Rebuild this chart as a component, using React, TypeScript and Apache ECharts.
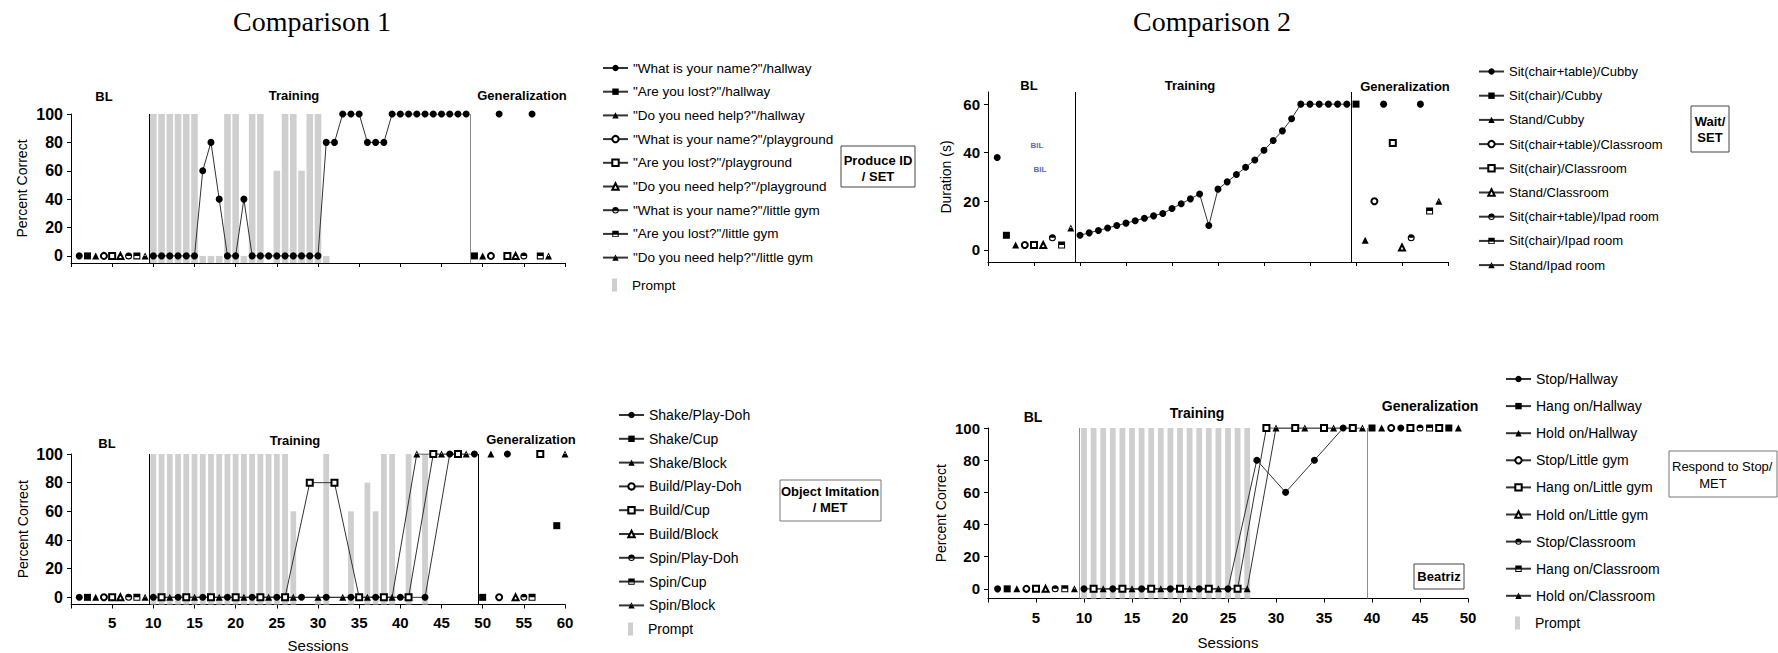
import React, { useEffect, useRef } from 'react';
import * as echarts from 'echarts';

const FONT = '"Liberation Sans", Arial, Helvetica, sans-serif';
const SERIF = '"Liberation Serif", "Times New Roman", serif';

// ---------------- Panel 1 : Produce ID / SET ----------------
const P1_NAMES = [
  '"What is your name?"/hallway',
  '"Are you lost?"/hallway',
  '"Do you need help?"/hallway',
  '"What is your name?"/playground',
  '"Are you lost?"/playground',
  '"Do you need help?"/playground',
  '"What is your name?"/little gym',
  '"Are you lost?"/little gym',
  '"Do you need help?"/little gym',
];
const P1_BL = [0, 0, 0, 0, 0, 0, 0, 0, 0]; // series i measured at session i+1
const P1_TRAIN_SESSIONS = [10, 11, 12, 13, 14, 15, 16, 17, 18, 19, 20, 21, 22, 23, 24, 25, 26, 27, 28, 29, 30, 31, 32, 33, 34, 35, 36, 37, 38, 39, 40, 41, 42, 43, 44, 45, 46, 47, 48];
const P1_TRAIN_S0 = [0, 0, 0, 0, 0, 0, 60, 80, 40, 0, 0, 40, 0, 0, 0, 0, 0, 0, 0, 0, 0, 80, 80, 100, 100, 100, 80, 80, 80, 100, 100, 100, 100, 100, 100, 100, 100, 100, 100];
// [session, series index, value]
const P1_GEN = [[49, 1, 0], [50, 2, 0], [51, 3, 0], [52, 0, 100], [53, 4, 0], [54, 5, 0], [55, 6, 0], [56, 0, 100], [57, 7, 0], [58, 8, 0]];
const P1_PROMPT_SESSIONS = [10, 11, 12, 13, 14, 15, 16, 17, 18, 19, 20, 21, 22, 23, 25, 26, 27, 28, 29, 30, 31];
const P1_PROMPT = [100, 100, 100, 100, 100, 100, 0, 0, 0, 100, 100, 0, 100, 100, 60, 100, 100, 60, 100, 100, 0];
const P1_PHASES = [9.5, 48.5];

// ---------------- Panel 2 : Wait / SET ----------------
const P2_NAMES = [
  'Sit(chair+table)/Cubby',
  'Sit(chair)/Cubby',
  'Stand/Cubby',
  'Sit(chair+table)/Classroom',
  'Sit(chair)/Classroom',
  'Stand/Classroom',
  'Sit(chair+table)/Ipad room',
  'Sit(chair)/Ipad room',
  'Stand/Ipad room',
];
const P2_BL = [38, 6, 2, 2, 2, 2, 5, 2, 9];
const P2_TRAIN_SESSIONS = [10, 11, 12, 13, 14, 15, 16, 17, 18, 19, 20, 21, 22, 23, 24, 25, 26, 27, 28, 29, 30, 31, 32, 33, 34, 35, 36, 37, 38, 39];
const P2_TRAIN_S0 = [6, 7, 8, 9, 10, 11, 12, 13, 14, 15, 17, 19, 21, 23, 10, 25, 28, 31, 34, 37, 41, 45, 49, 54, 60, 60, 60, 60, 60, 60];
const P2_GEN = [[40, 1, 60], [41, 2, 4], [42, 3, 20], [43, 0, 60], [44, 4, 44], [45, 5, 1], [46, 6, 5], [47, 0, 60], [48, 7, 16], [49, 8, 20]];
const P2_PHASES = [9.5, 39.5];

// ---------------- Panel 3 : Object Imitation / MET ----------------
const P3_NAMES = [
  'Shake/Play-Doh',
  'Shake/Cup',
  'Shake/Block',
  'Build/Play-Doh',
  'Build/Cup',
  'Build/Block',
  'Spin/Play-Doh',
  'Spin/Cup',
  'Spin/Block',
];
const P3_BL = [0, 0, 0, 0, 0, 0, 0, 0, 0];
const P3_TRAIN_S0 = [[10, 0], [13, 0], [16, 0], [19, 0], [22, 0], [25, 0], [28, 0], [31, 0], [34, 0], [37, 0], [40, 0], [43, 0], [46, 100], [49, 100]];
const P3_TRAIN_S4 = [[11, 0], [14, 0], [17, 0], [20, 0], [23, 0], [26, 0], [29, 80], [32, 80], [35, 0], [38, 0], [41, 0], [44, 100], [47, 100]];
const P3_TRAIN_S8 = [[12, 0], [15, 0], [18, 0], [21, 0], [24, 0], [27, 0], [30, 0], [33, 0], [36, 0], [39, 0], [42, 100], [45, 100], [48, 100]];
const P3_GEN = [[50, 1, 0], [51, 2, 100], [52, 3, 0], [53, 0, 100], [54, 5, 0], [55, 6, 0], [56, 7, 0], [57, 4, 100], [59, 1, 50], [60, 8, 100]];
const P3_PROMPT_SESSIONS = [10, 11, 12, 13, 14, 15, 16, 17, 18, 19, 20, 21, 22, 23, 24, 25, 26, 27, 30, 31, 34, 36, 37, 38, 39, 41, 43];
const P3_PROMPT = [100, 100, 100, 100, 100, 100, 100, 100, 100, 100, 100, 100, 100, 100, 100, 100, 100, 60, 0, 100, 60, 80, 60, 100, 100, 100, 100];
const P3_PHASES = [9.5, 49.5];

// ---------------- Panel 4 : Respond to Stop / MET ----------------
const P4_NAMES = [
  'Stop/Hallway',
  'Hang on/Hallway',
  'Hold on/Hallway',
  'Stop/Little gym',
  'Hang on/Little gym',
  'Hold on/Little gym',
  'Stop/Classroom',
  'Hang on/Classroom',
  'Hold on/Classroom',
];
const P4_BL = [0, 0, 0, 0, 0, 0, 0, 0, 0];
const P4_TRAIN_S0 = [[10, 0], [13, 0], [16, 0], [19, 0], [22, 0], [25, 0], [28, 80], [31, 60], [34, 80], [37, 100]];
const P4_TRAIN_S4 = [[11, 0], [14, 0], [17, 0], [20, 0], [23, 0], [26, 0], [29, 100], [32, 100], [35, 100], [38, 100]];
const P4_TRAIN_S8 = [[12, 0], [15, 0], [18, 0], [21, 0], [24, 0], [27, 0], [30, 100], [33, 100], [36, 100], [39, 100]];
const P4_GEN = [[40, 1, 100], [41, 2, 100], [42, 3, 100], [43, 0, 100], [44, 4, 100], [45, 6, 100], [46, 7, 100], [47, 4, 100], [48, 1, 100], [49, 2, 100]];
const P4_PROMPT_SESSIONS = [10, 11, 12, 13, 14, 15, 16, 17, 18, 19, 20, 21, 22, 23, 24, 25, 26, 27];
const P4_PROMPT = [100, 100, 100, 100, 100, 100, 100, 100, 100, 100, 100, 100, 100, 100, 100, 100, 100, 100];
const P4_PHASES = [9.5, 39.5];

const PCT_TICKS = [0, 20, 40, 60, 80, 100];
const DUR_TICKS = [0, 20, 40, 60];

// ---------------- markers ----------------
const HALF_CIRCLE = 'path://M0,10 A10,10 0 0 1 20,10 Z M0,10 A10,10 0 0 0 20,10 L17,10 A7,7 0 0 1 3,10 Z';
const HALF_RECT = 'path://M0,0 H20 V10 H0 Z M0,10 H3 V20 H0 Z M17,10 H20 V20 H17 Z M0,17 H20 V20 H0 Z';
const HALF_TRI = 'path://M10,0 L20,20 L0,20 Z M10,6 L4,18 L16,18 Z M5,10 L15,10 L20,20 L0,20 Z';
const SYMBOLS = ['circle', 'rect', 'triangle', 'emptyCircle', 'emptyRect', 'emptyTriangle', HALF_CIRCLE, HALF_RECT, HALF_TRI];
const HOLLOW = [false, false, false, true, true, true, false, false, false];

const pairs = (sessions: number[], values: number[]) => sessions.map((s, k) => [s, values[k]]);

const PANEL_DATA = [
  { names: P1_NAMES, bl: P1_BL, train: { 0: pairs(P1_TRAIN_SESSIONS, P1_TRAIN_S0) } as Record<number, number[][]>, gen: P1_GEN, prompt: pairs(P1_PROMPT_SESSIONS, P1_PROMPT), phases: P1_PHASES, yTicks: PCT_TICKS },
  { names: P2_NAMES, bl: P2_BL, train: { 0: pairs(P2_TRAIN_SESSIONS, P2_TRAIN_S0) } as Record<number, number[][]>, gen: P2_GEN, prompt: null as number[][] | null, phases: P2_PHASES, yTicks: DUR_TICKS },
  { names: P3_NAMES, bl: P3_BL, train: { 0: P3_TRAIN_S0, 4: P3_TRAIN_S4, 8: P3_TRAIN_S8 } as Record<number, number[][]>, gen: P3_GEN, prompt: pairs(P3_PROMPT_SESSIONS, P3_PROMPT), phases: P3_PHASES, yTicks: PCT_TICKS },
  { names: P4_NAMES, bl: P4_BL, train: { 0: P4_TRAIN_S0, 4: P4_TRAIN_S4, 8: P4_TRAIN_S8 } as Record<number, number[][]>, gen: P4_GEN, prompt: pairs(P4_PROMPT_SESSIONS, P4_PROMPT), phases: P4_PHASES, yTicks: PCT_TICKS },
];

// ---------------- layout (pixels) ----------------
const LAYOUT = [
  { grid: { left: 71, top: 114, width: 494, height: 149 }, xMax: 60, yMin: -5, yMax: 100, split: 5, yName: 'Percent Correct', yNameGap: 42, yLabelSize: 16, showX: false, xNameGap: 33, xLabelMargin: 10, phaseColors: ['#000', '#8c8c8c'], barFrac: 0.8, legend: { left: 602, top: 61, gap: 9.7, size: 13.5 }, promptTop: 278 },
  { grid: { left: 988, top: 92, width: 460, height: 170 }, xMax: 50, yMin: -5, yMax: 65, split: 3, yName: 'Duration (s)', yNameGap: 35, yLabelSize: 15, showX: false, xNameGap: 33, xLabelMargin: 10, phaseColors: ['#000', '#000'], barFrac: 0.6, legend: { left: 1478, top: 64.5, gap: 10.2, size: 13 }, promptTop: 0 },
  { grid: { left: 71, top: 454, width: 494, height: 150.5 }, xMax: 60, yMin: -5, yMax: 100, split: 5, yName: 'Percent Correct', yNameGap: 41, yLabelSize: 16, showX: true, xNameGap: 33, xLabelMargin: 10, phaseColors: ['#000', '#000'], barFrac: 0.7, legend: { left: 618, top: 408, gap: 9.8, size: 14 }, promptTop: 622 },
  { grid: { left: 988, top: 428, width: 480, height: 170.5 }, xMax: 50, yMin: -6, yMax: 100, split: 5, yName: 'Percent Correct', yNameGap: 40, yLabelSize: 15, showX: true, xNameGap: 36, xLabelMargin: 11, phaseColors: ['#8c8c8c', '#8c8c8c'], barFrac: 0.6, legend: { left: 1505, top: 372, gap: 13.1, size: 14 }, promptTop: 616 },
];

const BAR_COLOR = '#cfcfcf';
const LINE_COLOR = '#333';

function joinSegments(segs: number[][][]) {
  const out: any[] = [];
  segs.filter((s) => s.length).forEach((s, i) => {
    if (i > 0) out.push([s[0][0], null]);
    out.push(...s);
  });
  return out;
}

function buildOption() {
  const grid: any[] = [];
  const xAxis: any[] = [];
  const yAxis: any[] = [];
  const series: any[] = [];
  const legend: any[] = [];

  PANEL_DATA.forEach((pd, p) => {
    const L = LAYOUT[p];
    grid.push({ ...L.grid, containLabel: false, outerBoundsMode: 'none' });
    xAxis.push({
      gridIndex: p,
      type: 'value',
      min: 0,
      max: L.xMax,
      interval: 5,
      axisLine: { show: true, onZero: false, lineStyle: { color: '#000', width: 1 } },
      axisTick: { show: true, length: 4, lineStyle: { color: '#000' } },
      axisLabel: {
        show: L.showX,
        fontSize: 15,
        fontWeight: 'bold',
        color: '#000',
        fontFamily: FONT,
        margin: L.xLabelMargin,
        formatter: (v: number) => (v === 0 ? '' : String(v)),
      },
      splitLine: { show: false },
      name: L.showX ? 'Sessions' : '',
      nameLocation: 'middle',
      nameGap: L.xNameGap,
      nameTextStyle: { fontSize: 15, color: '#000', fontFamily: FONT },
    });
    yAxis.push({
      gridIndex: p,
      type: 'value',
      min: L.yMin,
      max: L.yMax,
      splitNumber: L.split,
      axisLine: { show: true, onZero: false, lineStyle: { color: '#000', width: 1 } },
      axisTick: { show: true, length: 4, lineStyle: { color: '#000' }, customValues: pd.yTicks },
      axisLabel: {
        fontSize: L.yLabelSize,
        fontWeight: 'bold',
        color: '#000',
        fontFamily: FONT,
        margin: 8,
        customValues: pd.yTicks,
      },
      splitLine: { show: false },
      name: L.yName,
      nameLocation: 'middle',
      nameRotate: 90,
      nameGap: L.yNameGap,
      nameTextStyle: { fontSize: 14, color: '#000', fontFamily: FONT },
    });

    if (pd.prompt) {
      const yMin = L.yMin;
      const frac = L.barFrac;
      series.push({
        type: 'custom',
        name: 'Prompt',
        xAxisIndex: p,
        yAxisIndex: p,
        data: pd.prompt,
        encode: { x: 0, y: 1 },
        itemStyle: { color: BAR_COLOR },
        silent: true,
        z: 1,
        renderItem: (params: any, api: any) => {
          const x = api.value(0);
          const v = api.value(1);
          const top = api.coord([x, v]);
          const base = api.coord([x, yMin]);
          const w = api.size([frac, 0])[0];
          return {
            type: 'rect',
            shape: { x: top[0] - w / 2, y: top[1], width: w, height: base[1] - top[1] },
            style: { fill: BAR_COLOR },
          };
        },
      });
    }

    pd.names.forEach((name, i) => {
      const segs: number[][][] = [[[i + 1, pd.bl[i]]], pd.train[i] || []];
      pd.gen.filter((g) => g[1] === i).forEach((g) => segs.push([[g[0], g[2]]]));
      const s: any = {
        type: 'line',
        name,
        xAxisIndex: p,
        yAxisIndex: p,
        data: joinSegments(segs),
        symbol: SYMBOLS[i],
        symbolSize: HOLLOW[i] ? 6 : 7,
        showSymbol: true,
        connectNulls: false,
        lineStyle: { color: LINE_COLOR, width: 1 },
        itemStyle: { color: '#000', borderColor: '#000', borderWidth: HOLLOW[i] ? 1 : 0 },
        emphasis: { disabled: true },
        z: 3,
      };
      if (i === 0) {
        s.markLine = {
          silent: true,
          symbol: 'none',
          label: { show: false },
          animation: false,
          data: pd.phases.map((ph, k) => ({ xAxis: ph, lineStyle: { color: L.phaseColors[k], width: 1, type: 'solid' } })),
        };
      }
      series.push(s);
    });

    legend.push({
      data: pd.names,
      orient: 'vertical',
      left: L.legend.left,
      top: L.legend.top,
      padding: 0,
      itemWidth: 25,
      itemHeight: 8,
      itemGap: L.legend.gap,
      selectedMode: false,
      textStyle: { fontSize: L.legend.size, lineHeight: 14, color: '#000', fontFamily: FONT },
    });
    if (pd.prompt) {
      legend.push({
        data: [{ name: 'Prompt', icon: 'rect' }],
        orient: 'vertical',
        left: L.legend.left + 10,
        top: L.promptTop,
        padding: 0,
        itemWidth: 5,
        itemHeight: 13,
        selectedMode: false,
        textStyle: { fontSize: L.legend.size, lineHeight: 14, color: '#000', fontFamily: FONT, padding: [0, 0, 0, 10] },
      });
    }
  });

  const txt = (x: number, y: number, text: string, font: string, align = 'center', fill = '#000') => ({
    type: 'text',
    x,
    y,
    silent: true,
    style: { text, font, fill, align, verticalAlign: 'middle' },
  });
  const box = (x: number, y: number, w: number, h: number, stroke = '#444') => ({
    type: 'rect',
    silent: true,
    shape: { x, y, width: w, height: h },
    style: { fill: '#fff', stroke, lineWidth: 1 },
  });
  const B13 = `bold 13px ${FONT}`;
  const B14 = `bold 14px ${FONT}`;

  const graphic: any[] = [
    txt(312, 21, 'Comparison 1', `28px ${SERIF}`),
    txt(1212, 21, 'Comparison 2', `28px ${SERIF}`),
    // phase labels
    txt(104, 96, 'BL', B13), txt(294, 95, 'Training', B13), txt(522, 95, 'Generalization', B13),
    txt(1029, 85, 'BL', B13), txt(1190, 85, 'Training', B13), txt(1405, 86, 'Generalization', B13),
    txt(107, 443, 'BL', B13), txt(295, 440, 'Training', B13), txt(531, 439, 'Generalization', B13),
    txt(1033, 417, 'BL', B14), txt(1197, 413, 'Training', B14), txt(1430, 406, 'Generalization', B14),
    // condition boxes
    box(841, 146, 74, 41), txt(878, 160, 'Produce ID', B13), txt(878, 176, '/ SET', B13),
    box(1691, 106, 38, 46), txt(1710, 121, 'Wait/', B13), txt(1710, 137, 'SET', B13),
    box(780, 480, 101, 41, '#777'), txt(830, 491, 'Object Imitation', B13), txt(830, 507, '/ MET', B13),
    box(1669, 451, 108, 46, '#777'), txt(1672, 466, 'Respond to Stop/', `13px ${FONT}`, 'left'), txt(1713, 483, 'MET', `13px ${FONT}`),
    box(1414, 564, 50, 25, '#444'), txt(1439, 576.5, 'Beatriz', B13),
    // small artefacts in the baseline of panel 2
    txt(1037, 145, 'BIL', `bold 8px ${FONT}`, 'center', '#6a6aa8'),
    txt(1040, 169, 'BIL', `bold 8px ${FONT}`, 'center', '#5a6ab8'),
  ];

  return {
    animation: false,
    backgroundColor: '#fff',
    textStyle: { fontFamily: FONT },
    grid,
    xAxis,
    yAxis,
    legend,
    series,
    graphic,
  };
}

export default function App() {
  const ref = useRef<HTMLDivElement>(null);
  useEffect(() => {
    const chart = echarts.init(ref.current!, null, { renderer: 'svg' });
    chart.setOption(buildOption() as any);
    return () => chart.dispose();
  }, []);
  return <div ref={ref} style={{ position: 'fixed', left: 0, top: 0, width: 1778, height: 653, background: '#fff' }} />;
}
